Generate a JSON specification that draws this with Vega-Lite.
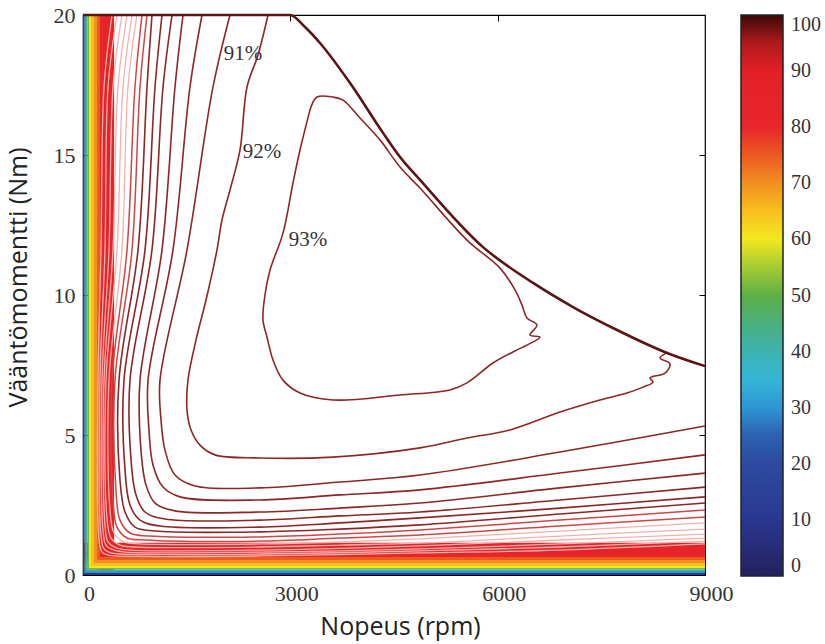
{
  "$schema": "https://vega.github.io/schema/vega-lite/v6.json",
  "width": 622,
  "height": 560,
  "autosize": "none",
  "padding": {"left": 83, "top": 15, "right": 120, "bottom": 69},
  "background": "white",
  "config": {"view": {"stroke": "#000", "strokeWidth": 1.2}},
  "resolve": {"axis": {"x": "independent", "y": "independent"}},
  "datasets": {
    "bg": [
      {"rpm": 0, "rpm2": 22, "nm": 0, "nm2": 20, "eff": 10},
      {"rpm": 22, "rpm2": 43, "nm": 0, "nm2": 20, "eff": 30},
      {"rpm": 43, "rpm2": 65, "nm": 0, "nm2": 20, "eff": 42},
      {"rpm": 65, "rpm2": 87, "nm": 0, "nm2": 20, "eff": 52},
      {"rpm": 87, "rpm2": 116, "nm": 0, "nm2": 20, "eff": 60},
      {"rpm": 116, "rpm2": 159, "nm": 0, "nm2": 20, "eff": 65},
      {"rpm": 159, "rpm2": 203, "nm": 0, "nm2": 20, "eff": 70},
      {"rpm": 203, "rpm2": 246, "nm": 0, "nm2": 20, "eff": 75},
      {"rpm": 246, "rpm2": 289, "nm": 0, "nm2": 20, "eff": 80},
      {"rpm": 289, "rpm2": 450, "nm": 0, "nm2": 20, "eff": 85},
      {"rpm": 0, "rpm2": 9000, "nm": 0, "nm2": 0.07, "eff": 10},
      {"rpm": 0, "rpm2": 9000, "nm": 0.07, "nm2": 0.14, "eff": 30},
      {"rpm": 0, "rpm2": 9000, "nm": 0.14, "nm2": 0.2, "eff": 42},
      {"rpm": 0, "rpm2": 9000, "nm": 0.2, "nm2": 0.25, "eff": 52},
      {"rpm": 0, "rpm2": 9000, "nm": 0.25, "nm2": 0.32, "eff": 60},
      {"rpm": 0, "rpm2": 9000, "nm": 0.32, "nm2": 0.43, "eff": 65},
      {"rpm": 0, "rpm2": 9000, "nm": 0.43, "nm2": 0.54, "eff": 70},
      {"rpm": 0, "rpm2": 9000, "nm": 0.54, "nm2": 0.64, "eff": 75},
      {"rpm": 0, "rpm2": 9000, "nm": 0.64, "nm2": 0.75, "eff": 80},
      {"rpm": 0, "rpm2": 9000, "nm": 0.75, "nm2": 1.15, "eff": 85}
    ],
    "cont": [
      {"lev": 93, "i": 1, "rpm": 3285, "nm": 16.61},
      {"lev": 93, "i": 2, "rpm": 3386, "nm": 17.07},
      {"lev": 93, "i": 3, "rpm": 3617, "nm": 17.07},
      {"lev": 93, "i": 4, "rpm": 3762, "nm": 16.96},
      {"lev": 93, "i": 5, "rpm": 4008, "nm": 16.32},
      {"lev": 93, "i": 6, "rpm": 4297, "nm": 15.54},
      {"lev": 93, "i": 7, "rpm": 4587, "nm": 14.57},
      {"lev": 93, "i": 8, "rpm": 4876, "nm": 13.82},
      {"lev": 93, "i": 9, "rpm": 5556, "nm": 11.96},
      {"lev": 93, "i": 10, "rpm": 6034, "nm": 10.96},
      {"lev": 93, "i": 11, "rpm": 6251, "nm": 10.18},
      {"lev": 93, "i": 12, "rpm": 6352, "nm": 9.64},
      {"lev": 93, "i": 13, "rpm": 6424, "nm": 9.18},
      {"lev": 93, "i": 14, "rpm": 6569, "nm": 8.93},
      {"lev": 93, "i": 15, "rpm": 6468, "nm": 8.57},
      {"lev": 93, "i": 16, "rpm": 6612, "nm": 8.5},
      {"lev": 93, "i": 17, "rpm": 6424, "nm": 8.21},
      {"lev": 93, "i": 18, "rpm": 6280, "nm": 8.04},
      {"lev": 93, "i": 19, "rpm": 5932, "nm": 7.57},
      {"lev": 93, "i": 20, "rpm": 5556, "nm": 6.86},
      {"lev": 93, "i": 21, "rpm": 5310, "nm": 6.61},
      {"lev": 93, "i": 22, "rpm": 4587, "nm": 6.43},
      {"lev": 93, "i": 23, "rpm": 3617, "nm": 6.25},
      {"lev": 93, "i": 24, "rpm": 3140, "nm": 6.5},
      {"lev": 93, "i": 25, "rpm": 2894, "nm": 6.96},
      {"lev": 93, "i": 26, "rpm": 2749, "nm": 7.68},
      {"lev": 93, "i": 27, "rpm": 2662, "nm": 8.5},
      {"lev": 93, "i": 28, "rpm": 2604, "nm": 9.11},
      {"lev": 93, "i": 29, "rpm": 2633, "nm": 10.0},
      {"lev": 93, "i": 30, "rpm": 2706, "nm": 10.89},
      {"lev": 93, "i": 31, "rpm": 2894, "nm": 12.21},
      {"lev": 93, "i": 32, "rpm": 3038, "nm": 14.0},
      {"lev": 93, "i": 33, "rpm": 3140, "nm": 15.18},
      {"lev": 93, "i": 34, "rpm": 3285, "nm": 16.61},

      {"lev": 92, "i": 1, "rpm": 2677, "nm": 20},
      {"lev": 92, "i": 2, "rpm": 2532, "nm": 18.57},
      {"lev": 92, "i": 3, "rpm": 2373, "nm": 17.43},
      {"lev": 92, "i": 4, "rpm": 2272, "nm": 15.18},
      {"lev": 92, "i": 5, "rpm": 2127, "nm": 13.75},
      {"lev": 92, "i": 6, "rpm": 2011, "nm": 12.68},
      {"lev": 92, "i": 7, "rpm": 1939, "nm": 11.61},
      {"lev": 92, "i": 8, "rpm": 1780, "nm": 9.82},
      {"lev": 92, "i": 9, "rpm": 1635, "nm": 8.39},
      {"lev": 92, "i": 10, "rpm": 1519, "nm": 6.96},
      {"lev": 92, "i": 11, "rpm": 1505, "nm": 5.89},
      {"lev": 92, "i": 12, "rpm": 1563, "nm": 5.18},
      {"lev": 92, "i": 13, "rpm": 1693, "nm": 4.64},
      {"lev": 92, "i": 14, "rpm": 1910, "nm": 4.29},
      {"lev": 92, "i": 15, "rpm": 2561, "nm": 4.18},
      {"lev": 92, "i": 16, "rpm": 3617, "nm": 4.21},
      {"lev": 92, "i": 17, "rpm": 4876, "nm": 4.54},
      {"lev": 92, "i": 18, "rpm": 5556, "nm": 4.89},
      {"lev": 92, "i": 19, "rpm": 6178, "nm": 5.18},
      {"lev": 92, "i": 20, "rpm": 6902, "nm": 5.82},
      {"lev": 92, "i": 21, "rpm": 7480, "nm": 6.25},
      {"lev": 92, "i": 22, "rpm": 7871, "nm": 6.5},
      {"lev": 92, "i": 23, "rpm": 8103, "nm": 6.71},
      {"lev": 92, "i": 24, "rpm": 8248, "nm": 6.89},
      {"lev": 92, "i": 25, "rpm": 8204, "nm": 7.04},
      {"lev": 92, "i": 26, "rpm": 8421, "nm": 7.21},
      {"lev": 92, "i": 27, "rpm": 8494, "nm": 7.54},
      {"lev": 92, "i": 28, "rpm": 8349, "nm": 7.75},
      {"lev": 92, "i": 29, "rpm": 8465, "nm": 7.96},

      {"lev": 91, "i": 1, "rpm": 2127, "nm": 20},
      {"lev": 91, "i": 2, "rpm": 1881, "nm": 17.43},
      {"lev": 91, "i": 3, "rpm": 1505, "nm": 11.61},
      {"lev": 91, "i": 4, "rpm": 1114, "nm": 6.96},
      {"lev": 91, "i": 5, "rpm": 1129, "nm": 5.54},
      {"lev": 91, "i": 6, "rpm": 1186, "nm": 4.46},
      {"lev": 91, "i": 7, "rpm": 1331, "nm": 3.57},
      {"lev": 91, "i": 8, "rpm": 1621, "nm": 3.18},
      {"lev": 91, "i": 9, "rpm": 2561, "nm": 3.11},
      {"lev": 91, "i": 10, "rpm": 3719, "nm": 3.32},
      {"lev": 91, "i": 11, "rpm": 4876, "nm": 3.57},
      {"lev": 91, "i": 12, "rpm": 6902, "nm": 4.39},
      {"lev": 91, "i": 13, "rpm": 9000, "nm": 5.32},

      {"lev": 90, "i": 1, "rpm": 1722, "nm": 20},
      {"lev": 90, "i": 2, "rpm": 1548, "nm": 17.43},
      {"lev": 90, "i": 3, "rpm": 1302, "nm": 11.61},
      {"lev": 90, "i": 4, "rpm": 941, "nm": 6.96},
      {"lev": 90, "i": 5, "rpm": 955, "nm": 5.18},
      {"lev": 90, "i": 6, "rpm": 1013, "nm": 3.93},
      {"lev": 90, "i": 7, "rpm": 1158, "nm": 3.14},
      {"lev": 90, "i": 8, "rpm": 1403, "nm": 2.79},
      {"lev": 90, "i": 9, "rpm": 2561, "nm": 2.68},
      {"lev": 90, "i": 10, "rpm": 3719, "nm": 2.86},
      {"lev": 90, "i": 11, "rpm": 4876, "nm": 3.04},
      {"lev": 90, "i": 12, "rpm": 6902, "nm": 3.64},
      {"lev": 90, "i": 13, "rpm": 9000, "nm": 4.29},

      {"lev": 89, "i": 1, "rpm": 1447, "nm": 20},
      {"lev": 89, "i": 2, "rpm": 1331, "nm": 17.43},
      {"lev": 89, "i": 3, "rpm": 1143, "nm": 11.61},
      {"lev": 89, "i": 4, "rpm": 825, "nm": 6.96},
      {"lev": 89, "i": 5, "rpm": 839, "nm": 4.46},
      {"lev": 89, "i": 6, "rpm": 912, "nm": 3.21},
      {"lev": 89, "i": 7, "rpm": 1042, "nm": 2.57},
      {"lev": 89, "i": 8, "rpm": 1331, "nm": 2.29},
      {"lev": 89, "i": 9, "rpm": 2561, "nm": 2.25},
      {"lev": 89, "i": 10, "rpm": 3719, "nm": 2.39},
      {"lev": 89, "i": 11, "rpm": 4876, "nm": 2.57},
      {"lev": 89, "i": 12, "rpm": 6902, "nm": 3.11},
      {"lev": 89, "i": 13, "rpm": 9000, "nm": 3.64},

      {"lev": 88, "i": 1, "rpm": 1288, "nm": 20},
      {"lev": 88, "i": 2, "rpm": 1158, "nm": 17.43},
      {"lev": 88, "i": 3, "rpm": 998, "nm": 11.61},
      {"lev": 88, "i": 4, "rpm": 680, "nm": 6.96},
      {"lev": 88, "i": 5, "rpm": 695, "nm": 4.11},
      {"lev": 88, "i": 6, "rpm": 767, "nm": 2.86},
      {"lev": 88, "i": 7, "rpm": 897, "nm": 2.25},
      {"lev": 88, "i": 8, "rpm": 1186, "nm": 2.0},
      {"lev": 88, "i": 9, "rpm": 2561, "nm": 1.96},
      {"lev": 88, "i": 10, "rpm": 3719, "nm": 2.11},
      {"lev": 88, "i": 11, "rpm": 4876, "nm": 2.25},
      {"lev": 88, "i": 12, "rpm": 6902, "nm": 2.68},
      {"lev": 88, "i": 13, "rpm": 9000, "nm": 3.14},

      {"lev": 87, "i": 1, "rpm": 1143, "nm": 20},
      {"lev": 87, "i": 2, "rpm": 1042, "nm": 17.43},
      {"lev": 87, "i": 3, "rpm": 897, "nm": 11.61},
      {"lev": 87, "i": 4, "rpm": 593, "nm": 6.96},
      {"lev": 87, "i": 5, "rpm": 608, "nm": 3.75},
      {"lev": 87, "i": 6, "rpm": 680, "nm": 2.5},
      {"lev": 87, "i": 7, "rpm": 825, "nm": 1.96},
      {"lev": 87, "i": 8, "rpm": 1114, "nm": 1.75},
      {"lev": 87, "i": 9, "rpm": 2561, "nm": 1.71},
      {"lev": 87, "i": 10, "rpm": 3719, "nm": 1.86},
      {"lev": 87, "i": 11, "rpm": 4876, "nm": 2.04},
      {"lev": 87, "i": 12, "rpm": 6902, "nm": 2.39},
      {"lev": 87, "i": 13, "rpm": 9000, "nm": 2.79},

      {"lev": 86, "i": 1, "rpm": 998, "nm": 20},
      {"lev": 86, "i": 2, "rpm": 926, "nm": 17.43},
      {"lev": 86, "i": 3, "rpm": 796, "nm": 11.61},
      {"lev": 86, "i": 4, "rpm": 521, "nm": 6.96},
      {"lev": 86, "i": 5, "rpm": 535, "nm": 3.39},
      {"lev": 86, "i": 6, "rpm": 608, "nm": 2.25},
      {"lev": 86, "i": 7, "rpm": 752, "nm": 1.71},
      {"lev": 86, "i": 8, "rpm": 1042, "nm": 1.57},
      {"lev": 86, "i": 9, "rpm": 2561, "nm": 1.54},
      {"lev": 86, "i": 10, "rpm": 3719, "nm": 1.64},
      {"lev": 86, "i": 11, "rpm": 4876, "nm": 1.79},
      {"lev": 86, "i": 12, "rpm": 6902, "nm": 2.18},
      {"lev": 86, "i": 13, "rpm": 9000, "nm": 2.57},

      {"lev": 85, "i": 1, "rpm": 926, "nm": 20},
      {"lev": 85, "i": 2, "rpm": 825, "nm": 17.43},
      {"lev": 85, "i": 3, "rpm": 709, "nm": 11.61},
      {"lev": 85, "i": 4, "rpm": 463, "nm": 6.96},
      {"lev": 85, "i": 5, "rpm": 477, "nm": 3.04},
      {"lev": 85, "i": 6, "rpm": 535, "nm": 1.96},
      {"lev": 85, "i": 7, "rpm": 680, "nm": 1.5},
      {"lev": 85, "i": 8, "rpm": 969, "nm": 1.39},
      {"lev": 85, "i": 9, "rpm": 2561, "nm": 1.36},
      {"lev": 85, "i": 10, "rpm": 3719, "nm": 1.46},
      {"lev": 85, "i": 11, "rpm": 4876, "nm": 1.61},
      {"lev": 85, "i": 12, "rpm": 6902, "nm": 1.96},
      {"lev": 85, "i": 13, "rpm": 9000, "nm": 2.32},

      {"lev": 84, "i": 1, "rpm": 854, "nm": 20},
      {"lev": 84, "i": 2, "rpm": 752, "nm": 17.43},
      {"lev": 84, "i": 3, "rpm": 637, "nm": 11.61},
      {"lev": 84, "i": 4, "rpm": 420, "nm": 6.96},
      {"lev": 84, "i": 5, "rpm": 434, "nm": 2.68},
      {"lev": 84, "i": 6, "rpm": 492, "nm": 1.71},
      {"lev": 84, "i": 7, "rpm": 637, "nm": 1.32},
      {"lev": 84, "i": 8, "rpm": 897, "nm": 1.25},
      {"lev": 84, "i": 9, "rpm": 2561, "nm": 1.21},
      {"lev": 84, "i": 10, "rpm": 3719, "nm": 1.32},
      {"lev": 84, "i": 11, "rpm": 4876, "nm": 1.43},
      {"lev": 84, "i": 12, "rpm": 6902, "nm": 1.75},
      {"lev": 84, "i": 13, "rpm": 9000, "nm": 2.07},

      {"lev": 83, "i": 1, "rpm": 781, "nm": 20},
      {"lev": 83, "i": 2, "rpm": 651, "nm": 17.43},
      {"lev": 83, "i": 3, "rpm": 564, "nm": 11.61},
      {"lev": 83, "i": 4, "rpm": 376, "nm": 6.96},
      {"lev": 83, "i": 5, "rpm": 391, "nm": 2.32},
      {"lev": 83, "i": 6, "rpm": 449, "nm": 1.5},
      {"lev": 83, "i": 7, "rpm": 593, "nm": 1.18},
      {"lev": 83, "i": 8, "rpm": 825, "nm": 1.11},
      {"lev": 83, "i": 9, "rpm": 2561, "nm": 1.11},
      {"lev": 83, "i": 10, "rpm": 3719, "nm": 1.18},
      {"lev": 83, "i": 11, "rpm": 4876, "nm": 1.29},
      {"lev": 83, "i": 12, "rpm": 6902, "nm": 1.57},
      {"lev": 83, "i": 13, "rpm": 9000, "nm": 1.86},

      {"lev": 82, "i": 1, "rpm": 709, "nm": 20},
      {"lev": 82, "i": 2, "rpm": 579, "nm": 17.43},
      {"lev": 82, "i": 3, "rpm": 492, "nm": 11.61},
      {"lev": 82, "i": 4, "rpm": 333, "nm": 6.96},
      {"lev": 82, "i": 5, "rpm": 347, "nm": 2.04},
      {"lev": 82, "i": 6, "rpm": 405, "nm": 1.32},
      {"lev": 82, "i": 7, "rpm": 535, "nm": 1.07},
      {"lev": 82, "i": 8, "rpm": 752, "nm": 1.0},
      {"lev": 82, "i": 9, "rpm": 2561, "nm": 1.0},
      {"lev": 82, "i": 10, "rpm": 3719, "nm": 1.07},
      {"lev": 82, "i": 11, "rpm": 4876, "nm": 1.14},
      {"lev": 82, "i": 12, "rpm": 6902, "nm": 1.39},
      {"lev": 82, "i": 13, "rpm": 9000, "nm": 1.64},

      {"lev": 81, "i": 1, "rpm": 637, "nm": 20},
      {"lev": 81, "i": 2, "rpm": 506, "nm": 17.43},
      {"lev": 81, "i": 3, "rpm": 434, "nm": 11.61},
      {"lev": 81, "i": 4, "rpm": 304, "nm": 6.96},
      {"lev": 81, "i": 5, "rpm": 318, "nm": 1.79},
      {"lev": 81, "i": 6, "rpm": 362, "nm": 1.18},
      {"lev": 81, "i": 7, "rpm": 492, "nm": 0.96},
      {"lev": 81, "i": 8, "rpm": 680, "nm": 0.89},
      {"lev": 81, "i": 9, "rpm": 2561, "nm": 0.89},
      {"lev": 81, "i": 10, "rpm": 4876, "nm": 1.04},
      {"lev": 81, "i": 11, "rpm": 6902, "nm": 1.25},
      {"lev": 81, "i": 12, "rpm": 9000, "nm": 1.46},

      {"lev": 80, "i": 1, "rpm": 564, "nm": 20},
      {"lev": 80, "i": 2, "rpm": 434, "nm": 17.43},
      {"lev": 80, "i": 3, "rpm": 376, "nm": 11.61},
      {"lev": 80, "i": 4, "rpm": 275, "nm": 6.96},
      {"lev": 80, "i": 5, "rpm": 289, "nm": 1.61},
      {"lev": 80, "i": 6, "rpm": 333, "nm": 1.07},
      {"lev": 80, "i": 7, "rpm": 449, "nm": 0.89},
      {"lev": 80, "i": 8, "rpm": 608, "nm": 0.82},
      {"lev": 80, "i": 9, "rpm": 2561, "nm": 0.82},
      {"lev": 80, "i": 10, "rpm": 4876, "nm": 0.93},
      {"lev": 80, "i": 11, "rpm": 6902, "nm": 1.11},
      {"lev": 80, "i": 12, "rpm": 9000, "nm": 1.32},

      {"lev": 79, "i": 1, "rpm": 492, "nm": 20},
      {"lev": 79, "i": 2, "rpm": 362, "nm": 17.43},
      {"lev": 79, "i": 3, "rpm": 318, "nm": 11.61},
      {"lev": 79, "i": 4, "rpm": 246, "nm": 6.96},
      {"lev": 79, "i": 5, "rpm": 260, "nm": 1.43},
      {"lev": 79, "i": 6, "rpm": 304, "nm": 0.93},
      {"lev": 79, "i": 7, "rpm": 405, "nm": 0.79},
      {"lev": 79, "i": 8, "rpm": 535, "nm": 0.75},
      {"lev": 79, "i": 9, "rpm": 2561, "nm": 0.75},
      {"lev": 79, "i": 10, "rpm": 4876, "nm": 0.86},
      {"lev": 79, "i": 11, "rpm": 6902, "nm": 1.0},
      {"lev": 79, "i": 12, "rpm": 9000, "nm": 1.21},

      {"lev": 78, "i": 1, "rpm": 420, "nm": 20},
      {"lev": 78, "i": 2, "rpm": 304, "nm": 17.43},
      {"lev": 78, "i": 3, "rpm": 260, "nm": 11.61},
      {"lev": 78, "i": 4, "rpm": 217, "nm": 6.96},
      {"lev": 78, "i": 5, "rpm": 232, "nm": 1.25},
      {"lev": 78, "i": 6, "rpm": 275, "nm": 0.82},
      {"lev": 78, "i": 7, "rpm": 362, "nm": 0.71},
      {"lev": 78, "i": 8, "rpm": 477, "nm": 0.68},
      {"lev": 78, "i": 9, "rpm": 2561, "nm": 0.68},
      {"lev": 78, "i": 10, "rpm": 4876, "nm": 0.79},
      {"lev": 78, "i": 11, "rpm": 6902, "nm": 0.89},
      {"lev": 78, "i": 12, "rpm": 9000, "nm": 1.11}
    ],
    "env": [
      {"i": 1, "rpm": 0, "nm": 20},
      {"i": 2, "rpm": 2995, "nm": 20},
      {"i": 3, "rpm": 3212, "nm": 19.57},
      {"i": 4, "rpm": 3429, "nm": 19.0},
      {"i": 5, "rpm": 3864, "nm": 17.57},
      {"i": 6, "rpm": 4341, "nm": 15.79},
      {"i": 7, "rpm": 4587, "nm": 14.93},
      {"i": 8, "rpm": 4877, "nm": 14.11},
      {"i": 9, "rpm": 5788, "nm": 11.71},
      {"i": 10, "rpm": 6512, "nm": 10.43},
      {"i": 11, "rpm": 7090, "nm": 9.57},
      {"i": 12, "rpm": 7727, "nm": 8.75},
      {"i": 13, "rpm": 8451, "nm": 7.93},
      {"i": 14, "rpm": 9000, "nm": 7.46}
    ],
    "labels": [
      {"rpm": 2315, "nm": 18.6, "txt": "91%"},
      {"rpm": 2590, "nm": 15.1, "txt": "92%"},
      {"rpm": 3256, "nm": 11.96, "txt": "93%"}
    ]
  },
  "layer": [
    {
      "data": {"name": "bg"},
      "mark": {"type": "rect"},
      "encoding": {
        "x": {"field": "rpm", "type": "quantitative", "title": "Nopeus (rpm)",
              "scale": {"domain": [0, 9000], "nice": false, "zero": false},
              "axis": {"values": [0, 3000, 6000, 9000], "format": "d", "tickSize": -5, "tickColor": "#000", "domain": false, "grid": false,
                       "labelFont": "Liberation Serif", "labelFontSize": 22, "labelColor": "#333", "labelPadding": 13, "labelOffset": 6, "labelFlush": false,
                       "titleFont": "Open Sans", "titleFontSize": 25, "titleFontWeight": "normal", "titleColor": "#222", "titlePadding": 10, "titleX": 317}},
        "x2": {"field": "rpm2"},
        "y": {"field": "nm", "type": "quantitative", "title": "Vääntömomentti (Nm)",
              "scale": {"domain": [0, 20], "nice": false, "zero": false},
              "axis": {"values": [0, 5, 10, 15, 20], "tickSize": -5, "tickColor": "#000", "domain": false, "grid": false,
                       "labelFont": "Liberation Serif", "labelFontSize": 22, "labelColor": "#333", "labelPadding": 13, "labelFlush": false,
                       "titleFont": "Open Sans", "titleFontSize": 25, "titleFontWeight": "normal", "titleColor": "#222", "titleX": -52, "titleY": 262, "titleBaseline": "bottom", "titleAngle": 270}},
        "y2": {"field": "nm2"},
        "color": {"field": "eff", "type": "quantitative",
                  "scale": {"domain": [0, 10, 20, 27, 32, 36, 42, 50, 56, 60, 65, 70, 75, 80, 90, 95, 100],
                            "range": ["#24205e", "#2a3790", "#2d4aa0", "#2a6ab8", "#2fb4e6", "#38b6d0", "#3fb0a0", "#5db046", "#b2d030", "#f2e81e", "#f8c01e", "#f29020", "#ec5a22", "#e8262a", "#e22026", "#b01a1c", "#3c0808"],
                            "interpolate": "rgb"},
                  "legend": {"orient": "right", "offset": 32, "title": null, "direction": "vertical",
                             "gradientLength": 561, "gradientThickness": 42, "gradientStrokeColor": "#222", "gradientStrokeWidth": 1.5,
                             "values": [0, 10, 20, 30, 40, 50, 60, 70, 80, 90, 100],
                             "labelFont": "Liberation Serif", "labelFontSize": 20, "labelColor": "#333", "labelOffset": 8, "labelOverlap": false}},
        "order": {"field": "eff", "sort": "descending"}
      }
    },
    {
      "data": {"name": "cont"},
      "transform": [{"filter": "datum.lev < 84"}],
      "mark": {"type": "line", "color": "#f6b0aa", "strokeWidth": 1.3, "interpolate": "catmull-rom"},
      "encoding": {
        "x": {"field": "rpm", "type": "quantitative", "axis": null},
        "y": {"field": "nm", "type": "quantitative", "axis": null},
        "detail": {"field": "lev"},
        "order": {"field": "i"}
      }
    },
    {
      "data": {"name": "cont"},
      "transform": [{"filter": "datum.lev >= 84 && datum.lev < 86"}],
      "mark": {"type": "line", "color": "#cf4644", "strokeWidth": 1.5, "interpolate": "catmull-rom"},
      "encoding": {
        "x": {"field": "rpm", "type": "quantitative", "axis": null},
        "y": {"field": "nm", "type": "quantitative", "axis": null},
        "detail": {"field": "lev"},
        "order": {"field": "i"}
      }
    },
    {
      "data": {"name": "cont"},
      "transform": [{"filter": "datum.lev >= 86"}],
      "mark": {"type": "line", "color": "#8e2626", "strokeWidth": 1.6, "interpolate": "catmull-rom"},
      "encoding": {
        "x": {"field": "rpm", "type": "quantitative", "axis": null},
        "y": {"field": "nm", "type": "quantitative", "axis": null},
        "detail": {"field": "lev"},
        "order": {"field": "i"}
      }
    },
    {
      "data": {"name": "env"},
      "mark": {"type": "line", "color": "#5a1414", "strokeWidth": 2.6, "interpolate": "monotone"},
      "encoding": {
        "x": {"field": "rpm", "type": "quantitative", "axis": null},
        "y": {"field": "nm", "type": "quantitative", "axis": null},
        "order": {"field": "i"}
      }
    },
    {
      "data": {"name": "labels"},
      "mark": {"type": "text", "font": "Liberation Serif", "fontSize": 21, "color": "#333"},
      "encoding": {
        "x": {"field": "rpm", "type": "quantitative",
              "axis": {"orient": "top", "values": [3000, 6000], "labels": false, "title": null, "domain": false, "grid": false, "tickSize": -6, "tickColor": "#000"}},
        "y": {"field": "nm", "type": "quantitative",
              "axis": {"orient": "right", "values": [5, 10, 15], "labels": false, "title": null, "domain": false, "grid": false, "tickSize": -6, "tickColor": "#000"}},
        "text": {"field": "txt"}
      }
    }
  ]
}
